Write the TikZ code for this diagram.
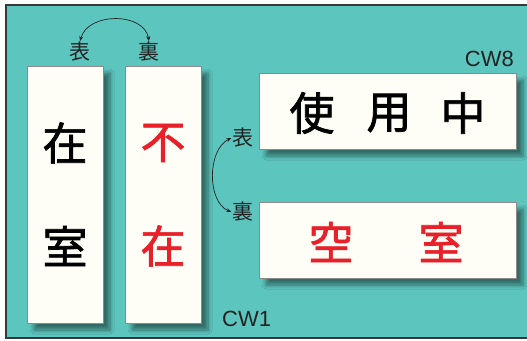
\documentclass[tikz,border=0pt]{standalone}
\usepackage{fontspec}
\setmainfont{Liberation Sans}
\newfontfamily\jp{Noto Sans CJK JP}
\newfontfamily\jpm{Noto Sans CJK JP}[FakeBold=1.6]
\usetikzlibrary{shadows.blur,arrows.meta}
\definecolor{teal1}{HTML}{5CC5BE}
\definecolor{cardfill}{HTML}{FEFEF6}
\definecolor{cardedge}{HTML}{8A8A8A}
\definecolor{redj}{HTML}{E8202A}
\definecolor{dk}{HTML}{222222}
\tikzset{
  card/.style={draw=cardedge, line width=1pt, fill=cardfill, inner sep=0pt, outer sep=0pt,
    blur shadow={shadow xshift=7pt, shadow yshift=-7pt, shadow blur steps=6, shadow blur radius=4pt, shadow opacity=45}},
  big/.style={font=\jpm\fontsize{45}{45}\selectfont, inner sep=0pt},
  lab/.style={font=\jp\fontsize{21}{21}\selectfont, text=dk, inner sep=1pt},
  cw/.style={font=\fontsize{22}{22}\selectfont, text=dk, inner sep=0pt},
  arr/.style={{Stealth[length=5pt,width=4pt]}-{Stealth[length=5pt,width=4pt]}, draw=dk, line width=0.7pt}
}
\begin{document}
\begin{tikzpicture}[x=1pt,y=-1pt]
\useasboundingbox (0,0) rectangle (527,340);
\fill[teal1] (6,5) rectangle (530,338);
\draw[draw=dk!90, line width=1.8pt] (530,5) -- (6,5) -- (6,338) -- (530,338);
% vertical cards
\node[card, minimum width=76pt, minimum height=257pt] (c1) at (65,194.5) {};
\node[card, minimum width=76pt, minimum height=257pt] (c2) at (163,194.5) {};
% horizontal cards
\node[card, minimum width=257pt, minimum height=76pt] (h1) at (387.5,111) {};
\node[card, minimum width=257pt, minimum height=76pt] (h2) at (387.5,240) {};
% big text
\node[big] (t1) at (65,143) {在};
\node[big] (t2) at (65,246) {室};
\node[big, text=redj] (t3) at (163,143) {不};
\node[big, text=redj] (t4) at (163,246) {在};
\node[big] (u1) at (312,113) {使};
\node[big] (u2) at (389,113) {用};
\node[big] (u3) at (463,113) {中};
\node[big, text=redj] (k1) at (331,242) {空};
\node[big, text=redj] (k2) at (441,242) {室};
% labels
\node[lab] (l1) at (80,52) {表};
\node[lab] (l2) at (149,52) {裏};
\node[lab] (r1) at (243,138) {表};
\node[lab] (r2) at (243,212) {裏};
\node[cw, anchor=base east] (cw8) at (514,66) {CW8};
\node[cw, anchor=base west] (cw1) at (222,326) {CW1};
% arrows
\draw[arr] (l1.north) ..controls (88,12) and (144,12) .. (l2.north);
\draw[arr] (r1.west) ..controls (207,150) and (207,202) .. (r2.west);
\end{tikzpicture}
\end{document}
